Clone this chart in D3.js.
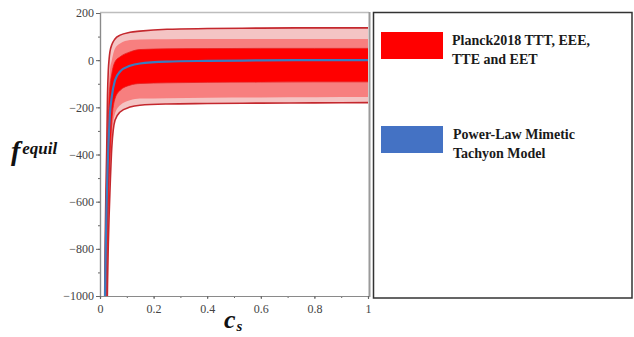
<!DOCTYPE html>
<html lang="en">
<head>
<meta charset="UTF-8">
<title>f_equil vs c_s</title>
<script src="https://d3js.org/d3.v7.min.js"></script>
<style>
  body { margin: 0; background: #fff; }
  .tick text { font-family: "Liberation Serif", serif; font-size: 12px; fill: #444; }
</style>
</head>
<body>
<script>
    var width = 634, height = 337;

    // sound speed samples and band edges
    var cs = [0.016, 0.019, 0.022, 0.025, 0.028, 0.031, 0.034, 0.037, 0.044, 0.056, 0.075, 0.112, 0.149, 0.25, 0.4, 0.6, 0.8, 1.0];
    var upperOuter = [-1200, -800, -560, -383, -150, -43, 5, 35, 65, 90, 106, 118, 123, 131, 134, 136, 137, 137];
    var upperMid   = [-1200, -860, -620, -450, -260, -150, -90, -43, 0, 50, 71, 85, 88, 89, 90, 90, 90, 90];
    var upperInner = [-1250, -920, -680, -500, -340, -255, -160, -113, -57, -7, 14, 35, 45, 48, 49, 50, 50, 50];
    var model      = [-1250, -1000, -760, -600, -470, -370, -295, -230, -155, -85, -48, -24, -14, -6, -3, -1, 0, 0];
    var lowerInner = [-1900, -1500, -1200, -950, -770, -620, -510, -420, -260, -163, -128, -106, -99, -96, -94, -93, -92, -92];
    var lowerMid   = [-2200, -1800, -1400, -1100, -880, -720, -600, -500, -330, -226, -191, -170, -163, -161, -159, -158, -157, -156];
    var lowerOuter = [-2500, -2000, -1600, -1200, -950, -780, -660, -560, -370, -255, -220, -199, -191, -186, -184, -182, -181, -180];

    var xTicks = [0, 0.2, 0.4, 0.6, 0.8, 1];
    var yTicks = [200, 0, -200, -400, -600, -800, -1000];
    var legendItems = [
        { lines: ["Planck2018 TTT, EEE,", "TTE and EET"], color: "#ff0000" },
        { lines: ["Power-Law Mimetic", "Tachyon Model"], color: "#4472c4" }
    ];

    var x = d3.scaleLinear().domain([0, 1]).range([100, 368]);
    var y = d3.scaleLinear().domain([-1000, 200]).range([296, 13]);

    var svg = d3.select("body").append("svg")
        .attr("width", width)
        .attr("height", height);

    svg.append("defs").append("clipPath").attr("id", "plotclip")
        .append("rect")
        .attr("x", x(0)).attr("y", y(200))
        .attr("width", x(1) - x(0)).attr("height", y(-1000) - y(200));

    var plot = svg.append("g").attr("clip-path", "url(#plotclip)");

    function band(top, bottom) {
        return d3.area()
            .curve(d3.curveMonotoneX)
            .x(function(d, i) { return x(cs[i]); })
            .y0(function(d, i) { return y(bottom[i]); })
            .y1(function(d, i) { return y(top[i]); })(cs);
    }
    function edge(vals) {
        return d3.line()
            .curve(d3.curveMonotoneX)
            .x(function(d, i) { return x(cs[i]); })
            .y(function(d, i) { return y(vals[i]); })(cs);
    }

    plot.append("path").attr("d", band(upperOuter, lowerOuter)).attr("fill", "#f4c4c4");
    plot.append("path").attr("d", band(upperMid, lowerMid)).attr("fill", "#f77f7f");
    plot.append("path").attr("d", band(upperInner, lowerInner)).attr("fill", "#ff0000");

    [upperInner, lowerInner].forEach(function(v) {
        plot.append("path").attr("d", edge(v))
            .attr("fill", "none").attr("stroke", "#e52020").attr("stroke-width", 0.8);
    });
    [upperOuter, lowerOuter].forEach(function(v) {
        plot.append("path").attr("d", edge(v))
            .attr("fill", "none").attr("stroke", "#c4282e").attr("stroke-width", 1.6);
    });

    plot.append("path").attr("d", edge(model))
        .attr("fill", "none").attr("stroke", "#3a7cc0").attr("stroke-width", 2.2);

    // frame (top and right)
    svg.append("line")
        .attr("x1", x(0)).attr("x2", 369).attr("y1", 12.5).attr("y2", 12.5)
        .attr("stroke", "#bdbdbd").attr("stroke-width", 1.5);
    svg.append("line")
        .attr("x1", 369.5).attr("x2", 369.5).attr("y1", 12).attr("y2", 297)
        .attr("stroke", "#9a9a9a").attr("stroke-width", 2);

    // axes
    var yMinor = svg.append("g").attr("transform", "translate(" + x(0) + ",0)")
        .call(d3.axisLeft(y).tickValues(d3.range(-1000, 201, 100)).tickSize(2).tickFormat(""));
    var yAxis = svg.append("g").attr("transform", "translate(" + x(0) + ",0)")
        .call(d3.axisLeft(y).tickValues(yTicks).tickSize(4).tickPadding(2).tickFormat(d3.format("")));
    var xMinor = svg.append("g").attr("transform", "translate(0," + y(-1000) + ")")
        .call(d3.axisBottom(x).tickValues(d3.range(0, 1.01, 0.1)).tickSize(2).tickFormat(""));
    var xAxis = svg.append("g").attr("transform", "translate(0," + y(-1000) + ")")
        .call(d3.axisBottom(x).tickValues(xTicks).tickSize(3).tickPadding(5).tickFormat(d3.format("")));

    [yMinor, yAxis, xMinor, xAxis].forEach(function(g) {
        g.select(".domain").attr("stroke", "#8a8a8a").attr("stroke-width", 1.2);
        g.selectAll(".tick line").attr("stroke", "#666");
    });

    // axis titles
    var yLab = svg.append("text")
        .attr("x", 11).attr("y", 160)
        .style("font-family", "'Liberation Serif', serif")
        .style("font-weight", "bold").style("font-style", "italic")
        .attr("fill", "#111");
    yLab.append("tspan").style("font-size", "28px").text("f");
    yLab.append("tspan").style("font-size", "17px").attr("dy", -6).attr("dx", 2).text("equil");

    var xLab = svg.append("text")
        .attr("x", 224).attr("y", 328)
        .style("font-family", "'Liberation Serif', serif")
        .style("font-weight", "bold").style("font-style", "italic")
        .attr("fill", "#111");
    xLab.append("tspan").style("font-size", "26px").text("c");
    xLab.append("tspan").style("font-size", "15px").attr("dy", 3).attr("dx", 1).text("s");

    // legend box
    var legend = svg.append("g");
    legend.append("rect")
        .attr("x", 373.5).attr("y", 12.5).attr("width", 258.5).attr("height", 285.5)
        .attr("fill", "#fff").attr("stroke", "#333").attr("stroke-width", 1.5);

    legendItems.forEach(function(d, i) {
        var top = 32 + i * 94;
        legend.append("rect")
            .attr("x", 381).attr("y", top).attr("width", 62).attr("height", 27)
            .attr("fill", d.color);
        var t = legend.append("text")
            .attr("x", 452 + i).attr("y", top + 13)
            .style("font-family", "'Liberation Serif', serif")
            .style("font-size", "14px").style("font-weight", "bold")
            .attr("fill", "#1a1a1a");
        d.lines.forEach(function(line, j) {
            t.append("tspan").attr("x", 452 + i).attr("dy", j === 0 ? 0 : 19).text(line);
        });
    });
</script>
</body>
</html>
